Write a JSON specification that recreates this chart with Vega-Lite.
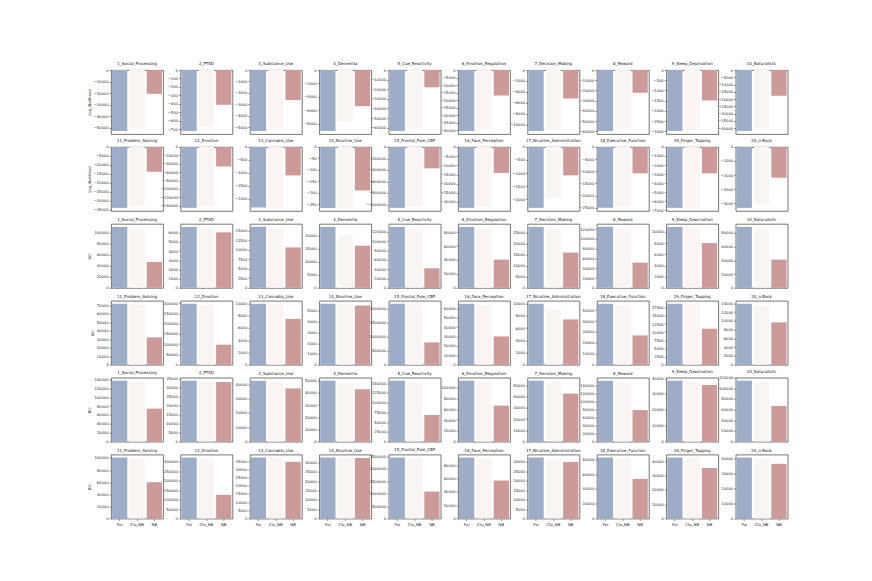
{
"$schema":"https://vega.github.io/schema/vega-lite/v6.json",
"padding":{"left":86,"top":61,"right":0,"bottom":0},
"background":"white",
"data":{"values":[
{"panel":1,"model":"Poi","value":-52800},{"panel":1,"model":"Clu_NB","value":-51300},{"panel":1,"model":"NB","value":-20600},
{"panel":2,"model":"Poi","value":-717},{"panel":2,"model":"Clu_NB","value":-669},{"panel":2,"model":"NB","value":-409},
{"panel":3,"model":"Poi","value":-5320},{"panel":3,"model":"Clu_NB","value":-5030},{"panel":3,"model":"NB","value":-2630},
{"panel":4,"model":"Poi","value":-9100},{"panel":4,"model":"Clu_NB","value":-7650},{"panel":4,"model":"NB","value":-5400},
{"panel":5,"model":"Poi","value":-63400},{"panel":5,"model":"Clu_NB","value":-61700},{"panel":5,"model":"NB","value":-18000},
{"panel":6,"model":"Poi","value":-40600},{"panel":6,"model":"Clu_NB","value":-39300},{"panel":6,"model":"NB","value":-17000},
{"panel":7,"model":"Poi","value":-11170},{"panel":7,"model":"Clu_NB","value":-11040},{"panel":7,"model":"NB","value":-5220},
{"panel":8,"model":"Poi","value":-59700},{"panel":8,"model":"Clu_NB","value":-58000},{"panel":8,"model":"NB","value":-22300},
{"panel":9,"model":"Poi","value":-2985},{"panel":9,"model":"Clu_NB","value":-2920},{"panel":9,"model":"NB","value":-1490},
{"panel":10,"model":"Poi","value":-41900},{"panel":10,"model":"Clu_NB","value":-40800},{"panel":10,"model":"NB","value":-17700},
{"panel":11,"model":"Poi","value":-34100},{"panel":11,"model":"Clu_NB","value":-33100},{"panel":11,"model":"NB","value":-13900},
{"panel":12,"model":"Poi","value":-145400},{"panel":12,"model":"Clu_NB","value":-141000},{"panel":12,"model":"NB","value":-46600},
{"panel":13,"model":"Poi","value":-2340},{"panel":13,"model":"Clu_NB","value":-2350},{"panel":13,"model":"NB","value":-1100},
{"panel":14,"model":"Poi","value":-266},{"panel":14,"model":"Clu_NB","value":-266},{"panel":14,"model":"NB","value":-190},
{"panel":15,"model":"Poi","value":-1058000},{"panel":15,"model":"Clu_NB","value":-1041000},{"panel":15,"model":"NB","value":-372000},
{"panel":16,"model":"Poi","value":-33200},{"panel":16,"model":"Clu_NB","value":-32700},{"panel":16,"model":"NB","value":-14200},
{"panel":17,"model":"Poi","value":-2333},{"panel":17,"model":"Clu_NB","value":-1950},{"panel":17,"model":"NB","value":-1090},
{"panel":18,"model":"Poi","value":-25100},{"panel":18,"model":"Clu_NB","value":-24600},{"panel":18,"model":"NB","value":-10900},
{"panel":19,"model":"Poi","value":-6720},{"panel":19,"model":"Clu_NB","value":-6720},{"panel":19,"model":"NB","value":-2920},
{"panel":20,"model":"Poi","value":-4330},{"panel":20,"model":"Clu_NB","value":-4100},{"panel":20,"model":"NB","value":-2190},
{"panel":21,"model":"Poi","value":110800},{"panel":21,"model":"Clu_NB","value":107800},{"panel":21,"model":"NB","value":47000},
{"panel":22,"model":"Poi","value":6650},{"panel":22,"model":"Clu_NB","value":6520},{"panel":22,"model":"NB","value":6050},
{"panel":23,"model":"Poi","value":16000},{"panel":23,"model":"Clu_NB","value":15400},{"panel":23,"model":"NB","value":10600},
{"panel":24,"model":"Poi","value":23300},{"panel":24,"model":"Clu_NB","value":20250},{"panel":24,"model":"NB","value":16100},
{"panel":25,"model":"Poi","value":130500},{"panel":25,"model":"Clu_NB","value":127000},{"panel":25,"model":"NB","value":41800},
{"panel":26,"model":"Poi","value":87600},{"panel":26,"model":"Clu_NB","value":84300},{"panel":26,"model":"NB","value":40500},
{"panel":27,"model":"Poi","value":27500},{"panel":27,"model":"Clu_NB","value":26900},{"panel":27,"model":"NB","value":15900},
{"panel":28,"model":"Poi","value":124700},{"panel":28,"model":"Clu_NB","value":121400},{"panel":28,"model":"NB","value":51500},
{"panel":29,"model":"Poi","value":10900},{"panel":29,"model":"Clu_NB","value":10700},{"panel":29,"model":"NB","value":8000},
{"panel":30,"model":"Poi","value":88700},{"panel":30,"model":"Clu_NB","value":86300},{"panel":30,"model":"NB","value":41000},
{"panel":31,"model":"Poi","value":72000},{"panel":31,"model":"Clu_NB","value":70900},{"panel":31,"model":"NB","value":32300},
{"panel":32,"model":"Poi","value":297000},{"panel":32,"model":"Clu_NB","value":290500},{"panel":32,"model":"NB","value":97400},
{"panel":33,"model":"Poi","value":9950},{"panel":33,"model":"Clu_NB","value":9950},{"panel":33,"model":"NB","value":7490},
{"panel":34,"model":"Poi","value":5670},{"panel":34,"model":"Clu_NB","value":5670},{"panel":34,"model":"NB","value":5510},
{"panel":35,"model":"Poi","value":2170000},{"panel":35,"model":"Clu_NB","value":2130000},{"panel":35,"model":"NB","value":795000},
{"panel":36,"model":"Poi","value":64900},{"panel":36,"model":"Clu_NB","value":63500},{"panel":36,"model":"NB","value":30100},
{"panel":37,"model":"Poi","value":10000},{"panel":37,"model":"Clu_NB","value":9180},{"panel":37,"model":"NB","value":7430},
{"panel":38,"model":"Poi","value":55800},{"panel":38,"model":"Clu_NB","value":54600},{"panel":38,"model":"NB","value":26800},
{"panel":39,"model":"Poi","value":18750},{"panel":39,"model":"Clu_NB","value":18650},{"panel":39,"model":"NB","value":11070},
{"panel":40,"model":"Poi","value":13900},{"panel":40,"model":"Clu_NB","value":13400},{"panel":40,"model":"NB","value":9660},
{"panel":41,"model":"Poi","value":137100},{"panel":41,"model":"Clu_NB","value":134800},{"panel":41,"model":"NB","value":74200},
{"panel":42,"model":"Poi","value":34000},{"panel":42,"model":"Clu_NB","value":33500},{"panel":42,"model":"NB","value":33200},
{"panel":43,"model":"Poi","value":42600},{"panel":43,"model":"Clu_NB","value":41900},{"panel":43,"model":"NB","value":37200},
{"panel":44,"model":"Poi","value":50000},{"panel":44,"model":"Clu_NB","value":47300},{"panel":44,"model":"NB","value":42900},
{"panel":45,"model":"Poi","value":156700},{"panel":45,"model":"Clu_NB","value":153200},{"panel":45,"model":"NB","value":68500},
{"panel":46,"model":"Poi","value":113000},{"panel":46,"model":"Clu_NB","value":110500},{"panel":46,"model":"NB","value":66700},
{"panel":47,"model":"Poi","value":54100},{"panel":47,"model":"Clu_NB","value":53600},{"panel":47,"model":"NB","value":42600},
{"panel":48,"model":"Poi","value":151500},{"panel":48,"model":"Clu_NB","value":148500},{"panel":48,"model":"NB","value":78300},
{"panel":49,"model":"Poi","value":38400},{"panel":49,"model":"Clu_NB","value":37900},{"panel":49,"model":"NB","value":35600},
{"panel":50,"model":"Poi","value":114400},{"panel":50,"model":"Clu_NB","value":112500},{"panel":50,"model":"NB","value":66900},
{"panel":51,"model":"Poi","value":100600},{"panel":51,"model":"Clu_NB","value":98900},{"panel":51,"model":"NB","value":59900},
{"panel":52,"model":"Poi","value":323000},{"panel":52,"model":"Clu_NB","value":316000},{"panel":52,"model":"NB","value":125400},
{"panel":53,"model":"Poi","value":37200},{"panel":53,"model":"Clu_NB","value":37200},{"panel":53,"model":"NB","value":34600},
{"panel":54,"model":"Poi","value":32700},{"panel":54,"model":"Clu_NB","value":32700},{"panel":54,"model":"NB","value":32500},
{"panel":55,"model":"Poi","value":2440000},{"panel":55,"model":"Clu_NB","value":2400000},{"panel":55,"model":"NB","value":1080000},
{"panel":56,"model":"Poi","value":92000},{"panel":56,"model":"Clu_NB","value":90400},{"panel":56,"model":"NB","value":57300},
{"panel":57,"model":"Poi","value":32100},{"panel":57,"model":"Clu_NB","value":31400},{"panel":57,"model":"NB","value":29800},
{"panel":58,"model":"Poi","value":82600},{"panel":58,"model":"Clu_NB","value":81300},{"panel":58,"model":"NB","value":53700},
{"panel":59,"model":"Poi","value":42600},{"panel":59,"model":"Clu_NB","value":42600},{"panel":59,"model":"NB","value":35300},
{"panel":60,"model":"Poi","value":40800},{"panel":60,"model":"Clu_NB","value":40200},{"panel":60,"model":"NB","value":36600}
]},
"columns":10,
"spacing":{"row":12.9,"column":17.4},
"bounds":"flush",
"concat":[
{"title":"1_Social_Processing","transform":[{"filter":"datum.panel==1"}],"mark":"bar","encoding":{"x":{"field":"model","type":"nominal","sort":["Poi","Clu_NB","NB"],"axis":null},"y":{"field":"value","type":"quantitative","stack":null,"scale":{"domain":[-55400,0],"nice":false},"axis":{"values":[0,-10000,-20000,-30000,-40000,-50000],"title":"Log_likelihood"}},"color":{"field":"model","type":"nominal","sort":["Poi","Clu_NB","NB"],"legend":null}}},
{"title":"2_PTSD","transform":[{"filter":"datum.panel==2"}],"mark":"bar","encoding":{"x":{"field":"model","type":"nominal","sort":["Poi","Clu_NB","NB"],"axis":null},"y":{"field":"value","type":"quantitative","stack":null,"scale":{"domain":[-753,0],"nice":false},"axis":{"values":[0,-100,-200,-300,-400,-500,-600,-700],"title":null}},"color":{"field":"model","type":"nominal","sort":["Poi","Clu_NB","NB"],"legend":null}}},
{"title":"3_Substance_Use","transform":[{"filter":"datum.panel==3"}],"mark":"bar","encoding":{"x":{"field":"model","type":"nominal","sort":["Poi","Clu_NB","NB"],"axis":null},"y":{"field":"value","type":"quantitative","stack":null,"scale":{"domain":[-5586,0],"nice":false},"axis":{"values":[0,-1000,-2000,-3000,-4000,-5000],"title":null}},"color":{"field":"model","type":"nominal","sort":["Poi","Clu_NB","NB"],"legend":null}}},
{"title":"4_Dementia","transform":[{"filter":"datum.panel==4"}],"mark":"bar","encoding":{"x":{"field":"model","type":"nominal","sort":["Poi","Clu_NB","NB"],"axis":null},"y":{"field":"value","type":"quantitative","stack":null,"scale":{"domain":[-9555,0],"nice":false},"axis":{"values":[0,-2000,-4000,-6000,-8000],"title":null}},"color":{"field":"model","type":"nominal","sort":["Poi","Clu_NB","NB"],"legend":null}}},
{"title":"5_Cue_Reactivity","transform":[{"filter":"datum.panel==5"}],"mark":"bar","encoding":{"x":{"field":"model","type":"nominal","sort":["Poi","Clu_NB","NB"],"axis":null},"y":{"field":"value","type":"quantitative","stack":null,"scale":{"domain":[-66570,0],"nice":false},"axis":{"values":[0,-10000,-20000,-30000,-40000,-50000,-60000],"title":null}},"color":{"field":"model","type":"nominal","sort":["Poi","Clu_NB","NB"],"legend":null}}},
{"title":"6_Emotion_Regulation","transform":[{"filter":"datum.panel==6"}],"mark":"bar","encoding":{"x":{"field":"model","type":"nominal","sort":["Poi","Clu_NB","NB"],"axis":null},"y":{"field":"value","type":"quantitative","stack":null,"scale":{"domain":[-42630,0],"nice":false},"axis":{"values":[0,-5000,-10000,-15000,-20000,-25000,-30000,-35000,-40000],"title":null}},"color":{"field":"model","type":"nominal","sort":["Poi","Clu_NB","NB"],"legend":null}}},
{"title":"7_Decision_Making","transform":[{"filter":"datum.panel==7"}],"mark":"bar","encoding":{"x":{"field":"model","type":"nominal","sort":["Poi","Clu_NB","NB"],"axis":null},"y":{"field":"value","type":"quantitative","stack":null,"scale":{"domain":[-11730,0],"nice":false},"axis":{"values":[0,-2000,-4000,-6000,-8000,-10000],"title":null}},"color":{"field":"model","type":"nominal","sort":["Poi","Clu_NB","NB"],"legend":null}}},
{"title":"8_Reward","transform":[{"filter":"datum.panel==8"}],"mark":"bar","encoding":{"x":{"field":"model","type":"nominal","sort":["Poi","Clu_NB","NB"],"axis":null},"y":{"field":"value","type":"quantitative","stack":null,"scale":{"domain":[-62685,0],"nice":false},"axis":{"values":[0,-10000,-20000,-30000,-40000,-50000,-60000],"title":null}},"color":{"field":"model","type":"nominal","sort":["Poi","Clu_NB","NB"],"legend":null}}},
{"title":"9_Sleep_Deprivation","transform":[{"filter":"datum.panel==9"}],"mark":"bar","encoding":{"x":{"field":"model","type":"nominal","sort":["Poi","Clu_NB","NB"],"axis":null},"y":{"field":"value","type":"quantitative","stack":null,"scale":{"domain":[-3134,0],"nice":false},"axis":{"values":[0,-500,-1000,-1500,-2000,-2500,-3000],"title":null}},"color":{"field":"model","type":"nominal","sort":["Poi","Clu_NB","NB"],"legend":null}}},
{"title":"10_Naturalistic","transform":[{"filter":"datum.panel==10"}],"mark":"bar","encoding":{"x":{"field":"model","type":"nominal","sort":["Poi","Clu_NB","NB"],"axis":null},"y":{"field":"value","type":"quantitative","stack":null,"scale":{"domain":[-43995,0],"nice":false},"axis":{"values":[0,-5000,-10000,-15000,-20000,-25000,-30000,-35000,-40000],"title":null}},"color":{"field":"model","type":"nominal","sort":["Poi","Clu_NB","NB"],"legend":null}}},
{"title":"11_Problem_Solving","transform":[{"filter":"datum.panel==11"}],"mark":"bar","encoding":{"x":{"field":"model","type":"nominal","sort":["Poi","Clu_NB","NB"],"axis":null},"y":{"field":"value","type":"quantitative","stack":null,"scale":{"domain":[-35805,0],"nice":false},"axis":{"values":[0,-5000,-10000,-15000,-20000,-25000,-30000,-35000],"title":"Log_likelihood"}},"color":{"field":"model","type":"nominal","sort":["Poi","Clu_NB","NB"],"legend":null}}},
{"title":"12_Emotion","transform":[{"filter":"datum.panel==12"}],"mark":"bar","encoding":{"x":{"field":"model","type":"nominal","sort":["Poi","Clu_NB","NB"],"axis":null},"y":{"field":"value","type":"quantitative","stack":null,"scale":{"domain":[-152670,0],"nice":false},"axis":{"values":[0,-20000,-40000,-60000,-80000,-100000,-120000,-140000],"title":null}},"color":{"field":"model","type":"nominal","sort":["Poi","Clu_NB","NB"],"legend":null}}},
{"title":"13_Cannabis_Use","transform":[{"filter":"datum.panel==13"}],"mark":"bar","encoding":{"x":{"field":"model","type":"nominal","sort":["Poi","Clu_NB","NB"],"axis":null},"y":{"field":"value","type":"quantitative","stack":null,"scale":{"domain":[-2468,0],"nice":false},"axis":{"values":[0,-500,-1000,-1500,-2000],"title":null}},"color":{"field":"model","type":"nominal","sort":["Poi","Clu_NB","NB"],"legend":null}}},
{"title":"14_Nicotine_Use","transform":[{"filter":"datum.panel==14"}],"mark":"bar","encoding":{"x":{"field":"model","type":"nominal","sort":["Poi","Clu_NB","NB"],"axis":null},"y":{"field":"value","type":"quantitative","stack":null,"scale":{"domain":[-279,0],"nice":false},"axis":{"values":[0,-50,-100,-150,-200,-250],"title":null}},"color":{"field":"model","type":"nominal","sort":["Poi","Clu_NB","NB"],"legend":null}}},
{"title":"15_Frontal_Pole_CBP","transform":[{"filter":"datum.panel==15"}],"mark":"bar","encoding":{"x":{"field":"model","type":"nominal","sort":["Poi","Clu_NB","NB"],"axis":null},"y":{"field":"value","type":"quantitative","stack":null,"scale":{"domain":[-1110900,0],"nice":false},"axis":{"values":[0,-200000,-400000,-600000,-800000,-1000000],"title":null}},"color":{"field":"model","type":"nominal","sort":["Poi","Clu_NB","NB"],"legend":null}}},
{"title":"16_Face_Perception","transform":[{"filter":"datum.panel==16"}],"mark":"bar","encoding":{"x":{"field":"model","type":"nominal","sort":["Poi","Clu_NB","NB"],"axis":null},"y":{"field":"value","type":"quantitative","stack":null,"scale":{"domain":[-34860,0],"nice":false},"axis":{"values":[0,-5000,-10000,-15000,-20000,-25000,-30000],"title":null}},"color":{"field":"model","type":"nominal","sort":["Poi","Clu_NB","NB"],"legend":null}}},
{"title":"17_Nicotine_Administration","transform":[{"filter":"datum.panel==17"}],"mark":"bar","encoding":{"x":{"field":"model","type":"nominal","sort":["Poi","Clu_NB","NB"],"axis":null},"y":{"field":"value","type":"quantitative","stack":null,"scale":{"domain":[-2450,0],"nice":false},"axis":{"values":[0,-500,-1000,-1500,-2000],"title":null}},"color":{"field":"model","type":"nominal","sort":["Poi","Clu_NB","NB"],"legend":null}}},
{"title":"18_Executive_Function","transform":[{"filter":"datum.panel==18"}],"mark":"bar","encoding":{"x":{"field":"model","type":"nominal","sort":["Poi","Clu_NB","NB"],"axis":null},"y":{"field":"value","type":"quantitative","stack":null,"scale":{"domain":[-26355,0],"nice":false},"axis":{"values":[0,-5000,-10000,-15000,-20000,-25000],"title":null}},"color":{"field":"model","type":"nominal","sort":["Poi","Clu_NB","NB"],"legend":null}}},
{"title":"19_Finger_Tapping","transform":[{"filter":"datum.panel==19"}],"mark":"bar","encoding":{"x":{"field":"model","type":"nominal","sort":["Poi","Clu_NB","NB"],"axis":null},"y":{"field":"value","type":"quantitative","stack":null,"scale":{"domain":[-7056,0],"nice":false},"axis":{"values":[0,-1000,-2000,-3000,-4000,-5000,-6000,-7000],"title":null}},"color":{"field":"model","type":"nominal","sort":["Poi","Clu_NB","NB"],"legend":null}}},
{"title":"20_n-Back","transform":[{"filter":"datum.panel==20"}],"mark":"bar","encoding":{"x":{"field":"model","type":"nominal","sort":["Poi","Clu_NB","NB"],"axis":null},"y":{"field":"value","type":"quantitative","stack":null,"scale":{"domain":[-4547,0],"nice":false},"axis":{"values":[0,-1000,-2000,-3000,-4000],"title":null}},"color":{"field":"model","type":"nominal","sort":["Poi","Clu_NB","NB"],"legend":null}}},
{"title":"1_Social_Processing","transform":[{"filter":"datum.panel==21"}],"mark":"bar","encoding":{"x":{"field":"model","type":"nominal","sort":["Poi","Clu_NB","NB"],"axis":null},"y":{"field":"value","type":"quantitative","stack":null,"scale":{"domain":[0,116340],"nice":false},"axis":{"values":[0,20000,40000,60000,80000,100000],"title":"AIC"}},"color":{"field":"model","type":"nominal","sort":["Poi","Clu_NB","NB"],"legend":null}}},
{"title":"2_PTSD","transform":[{"filter":"datum.panel==22"}],"mark":"bar","encoding":{"x":{"field":"model","type":"nominal","sort":["Poi","Clu_NB","NB"],"axis":null},"y":{"field":"value","type":"quantitative","stack":null,"scale":{"domain":[0,6983],"nice":false},"axis":{"values":[0,1000,2000,3000,4000,5000,6000],"title":null}},"color":{"field":"model","type":"nominal","sort":["Poi","Clu_NB","NB"],"legend":null}}},
{"title":"3_Substance_Use","transform":[{"filter":"datum.panel==23"}],"mark":"bar","encoding":{"x":{"field":"model","type":"nominal","sort":["Poi","Clu_NB","NB"],"axis":null},"y":{"field":"value","type":"quantitative","stack":null,"scale":{"domain":[0,16800],"nice":false},"axis":{"values":[0,2500,5000,7500,10000,12500,15000],"title":null}},"color":{"field":"model","type":"nominal","sort":["Poi","Clu_NB","NB"],"legend":null}}},
{"title":"4_Dementia","transform":[{"filter":"datum.panel==24"}],"mark":"bar","encoding":{"x":{"field":"model","type":"nominal","sort":["Poi","Clu_NB","NB"],"axis":null},"y":{"field":"value","type":"quantitative","stack":null,"scale":{"domain":[0,24470],"nice":false},"axis":{"values":[0,5000,10000,15000,20000],"title":null}},"color":{"field":"model","type":"nominal","sort":["Poi","Clu_NB","NB"],"legend":null}}},
{"title":"5_Cue_Reactivity","transform":[{"filter":"datum.panel==25"}],"mark":"bar","encoding":{"x":{"field":"model","type":"nominal","sort":["Poi","Clu_NB","NB"],"axis":null},"y":{"field":"value","type":"quantitative","stack":null,"scale":{"domain":[0,137000],"nice":false},"axis":{"values":[0,20000,40000,60000,80000,100000,120000],"title":null}},"color":{"field":"model","type":"nominal","sort":["Poi","Clu_NB","NB"],"legend":null}}},
{"title":"6_Emotion_Regulation","transform":[{"filter":"datum.panel==26"}],"mark":"bar","encoding":{"x":{"field":"model","type":"nominal","sort":["Poi","Clu_NB","NB"],"axis":null},"y":{"field":"value","type":"quantitative","stack":null,"scale":{"domain":[0,91980],"nice":false},"axis":{"values":[0,20000,40000,60000,80000],"title":null}},"color":{"field":"model","type":"nominal","sort":["Poi","Clu_NB","NB"],"legend":null}}},
{"title":"7_Decision_Making","transform":[{"filter":"datum.panel==27"}],"mark":"bar","encoding":{"x":{"field":"model","type":"nominal","sort":["Poi","Clu_NB","NB"],"axis":null},"y":{"field":"value","type":"quantitative","stack":null,"scale":{"domain":[0,28880],"nice":false},"axis":{"values":[0,5000,10000,15000,20000,25000],"title":null}},"color":{"field":"model","type":"nominal","sort":["Poi","Clu_NB","NB"],"legend":null}}},
{"title":"8_Reward","transform":[{"filter":"datum.panel==28"}],"mark":"bar","encoding":{"x":{"field":"model","type":"nominal","sort":["Poi","Clu_NB","NB"],"axis":null},"y":{"field":"value","type":"quantitative","stack":null,"scale":{"domain":[0,130900],"nice":false},"axis":{"values":[0,20000,40000,60000,80000,100000,120000],"title":null}},"color":{"field":"model","type":"nominal","sort":["Poi","Clu_NB","NB"],"legend":null}}},
{"title":"9_Sleep_Deprivation","transform":[{"filter":"datum.panel==29"}],"mark":"bar","encoding":{"x":{"field":"model","type":"nominal","sort":["Poi","Clu_NB","NB"],"axis":null},"y":{"field":"value","type":"quantitative","stack":null,"scale":{"domain":[0,11450],"nice":false},"axis":{"values":[0,2000,4000,6000,8000,10000],"title":null}},"color":{"field":"model","type":"nominal","sort":["Poi","Clu_NB","NB"],"legend":null}}},
{"title":"10_Naturalistic","transform":[{"filter":"datum.panel==30"}],"mark":"bar","encoding":{"x":{"field":"model","type":"nominal","sort":["Poi","Clu_NB","NB"],"axis":null},"y":{"field":"value","type":"quantitative","stack":null,"scale":{"domain":[0,93140],"nice":false},"axis":{"values":[0,20000,40000,60000,80000],"title":null}},"color":{"field":"model","type":"nominal","sort":["Poi","Clu_NB","NB"],"legend":null}}},
{"title":"11_Problem_Solving","transform":[{"filter":"datum.panel==31"}],"mark":"bar","encoding":{"x":{"field":"model","type":"nominal","sort":["Poi","Clu_NB","NB"],"axis":null},"y":{"field":"value","type":"quantitative","stack":null,"scale":{"domain":[0,75600],"nice":false},"axis":{"values":[0,10000,20000,30000,40000,50000,60000,70000],"title":"AIC"}},"color":{"field":"model","type":"nominal","sort":["Poi","Clu_NB","NB"],"legend":null}}},
{"title":"12_Emotion","transform":[{"filter":"datum.panel==32"}],"mark":"bar","encoding":{"x":{"field":"model","type":"nominal","sort":["Poi","Clu_NB","NB"],"axis":null},"y":{"field":"value","type":"quantitative","stack":null,"scale":{"domain":[0,311850],"nice":false},"axis":{"values":[0,50000,100000,150000,200000,250000,300000],"title":null}},"color":{"field":"model","type":"nominal","sort":["Poi","Clu_NB","NB"],"legend":null}}},
{"title":"13_Cannabis_Use","transform":[{"filter":"datum.panel==33"}],"mark":"bar","encoding":{"x":{"field":"model","type":"nominal","sort":["Poi","Clu_NB","NB"],"axis":null},"y":{"field":"value","type":"quantitative","stack":null,"scale":{"domain":[0,10450],"nice":false},"axis":{"values":[0,2000,4000,6000,8000,10000],"title":null}},"color":{"field":"model","type":"nominal","sort":["Poi","Clu_NB","NB"],"legend":null}}},
{"title":"14_Nicotine_Use","transform":[{"filter":"datum.panel==34"}],"mark":"bar","encoding":{"x":{"field":"model","type":"nominal","sort":["Poi","Clu_NB","NB"],"axis":null},"y":{"field":"value","type":"quantitative","stack":null,"scale":{"domain":[0,5954],"nice":false},"axis":{"values":[0,1000,2000,3000,4000,5000],"title":null}},"color":{"field":"model","type":"nominal","sort":["Poi","Clu_NB","NB"],"legend":null}}},
{"title":"15_Frontal_Pole_CBP","transform":[{"filter":"datum.panel==35"}],"mark":"bar","encoding":{"x":{"field":"model","type":"nominal","sort":["Poi","Clu_NB","NB"],"axis":null},"y":{"field":"value","type":"quantitative","stack":null,"scale":{"domain":[0,2278500],"nice":false},"axis":{"values":[0,500000,1000000,1500000,2000000],"title":null}},"color":{"field":"model","type":"nominal","sort":["Poi","Clu_NB","NB"],"legend":null}}},
{"title":"16_Face_Perception","transform":[{"filter":"datum.panel==36"}],"mark":"bar","encoding":{"x":{"field":"model","type":"nominal","sort":["Poi","Clu_NB","NB"],"axis":null},"y":{"field":"value","type":"quantitative","stack":null,"scale":{"domain":[0,68150],"nice":false},"axis":{"values":[0,10000,20000,30000,40000,50000,60000],"title":null}},"color":{"field":"model","type":"nominal","sort":["Poi","Clu_NB","NB"],"legend":null}}},
{"title":"17_Nicotine_Administration","transform":[{"filter":"datum.panel==37"}],"mark":"bar","encoding":{"x":{"field":"model","type":"nominal","sort":["Poi","Clu_NB","NB"],"axis":null},"y":{"field":"value","type":"quantitative","stack":null,"scale":{"domain":[0,10500],"nice":false},"axis":{"values":[0,2000,4000,6000,8000,10000],"title":null}},"color":{"field":"model","type":"nominal","sort":["Poi","Clu_NB","NB"],"legend":null}}},
{"title":"18_Executive_Function","transform":[{"filter":"datum.panel==38"}],"mark":"bar","encoding":{"x":{"field":"model","type":"nominal","sort":["Poi","Clu_NB","NB"],"axis":null},"y":{"field":"value","type":"quantitative","stack":null,"scale":{"domain":[0,58590],"nice":false},"axis":{"values":[0,10000,20000,30000,40000,50000],"title":null}},"color":{"field":"model","type":"nominal","sort":["Poi","Clu_NB","NB"],"legend":null}}},
{"title":"19_Finger_Tapping","transform":[{"filter":"datum.panel==39"}],"mark":"bar","encoding":{"x":{"field":"model","type":"nominal","sort":["Poi","Clu_NB","NB"],"axis":null},"y":{"field":"value","type":"quantitative","stack":null,"scale":{"domain":[0,19690],"nice":false},"axis":{"values":[0,2500,5000,7500,10000,12500,15000,17500],"title":null}},"color":{"field":"model","type":"nominal","sort":["Poi","Clu_NB","NB"],"legend":null}}},
{"title":"20_n-Back","transform":[{"filter":"datum.panel==40"}],"mark":"bar","encoding":{"x":{"field":"model","type":"nominal","sort":["Poi","Clu_NB","NB"],"axis":null},"y":{"field":"value","type":"quantitative","stack":null,"scale":{"domain":[0,14600],"nice":false},"axis":{"values":[0,2000,4000,6000,8000,10000,12000,14000],"title":null}},"color":{"field":"model","type":"nominal","sort":["Poi","Clu_NB","NB"],"legend":null}}},
{"title":"1_Social_Processing","transform":[{"filter":"datum.panel==41"}],"mark":"bar","encoding":{"x":{"field":"model","type":"nominal","sort":["Poi","Clu_NB","NB"],"axis":null},"y":{"field":"value","type":"quantitative","stack":null,"scale":{"domain":[0,143960],"nice":false},"axis":{"values":[0,20000,40000,60000,80000,100000,120000,140000],"title":"BIC"}},"color":{"field":"model","type":"nominal","sort":["Poi","Clu_NB","NB"],"legend":null}}},
{"title":"2_PTSD","transform":[{"filter":"datum.panel==42"}],"mark":"bar","encoding":{"x":{"field":"model","type":"nominal","sort":["Poi","Clu_NB","NB"],"axis":null},"y":{"field":"value","type":"quantitative","stack":null,"scale":{"domain":[0,35700],"nice":false},"axis":{"values":[0,5000,10000,15000,20000,25000,30000,35000],"title":null}},"color":{"field":"model","type":"nominal","sort":["Poi","Clu_NB","NB"],"legend":null}}},
{"title":"3_Substance_Use","transform":[{"filter":"datum.panel==43"}],"mark":"bar","encoding":{"x":{"field":"model","type":"nominal","sort":["Poi","Clu_NB","NB"],"axis":null},"y":{"field":"value","type":"quantitative","stack":null,"scale":{"domain":[0,44730],"nice":false},"axis":{"values":[0,10000,20000,30000,40000],"title":null}},"color":{"field":"model","type":"nominal","sort":["Poi","Clu_NB","NB"],"legend":null}}},
{"title":"4_Dementia","transform":[{"filter":"datum.panel==44"}],"mark":"bar","encoding":{"x":{"field":"model","type":"nominal","sort":["Poi","Clu_NB","NB"],"axis":null},"y":{"field":"value","type":"quantitative","stack":null,"scale":{"domain":[0,52500],"nice":false},"axis":{"values":[0,10000,20000,30000,40000,50000],"title":null}},"color":{"field":"model","type":"nominal","sort":["Poi","Clu_NB","NB"],"legend":null}}},
{"title":"5_Cue_Reactivity","transform":[{"filter":"datum.panel==45"}],"mark":"bar","encoding":{"x":{"field":"model","type":"nominal","sort":["Poi","Clu_NB","NB"],"axis":null},"y":{"field":"value","type":"quantitative","stack":null,"scale":{"domain":[0,164540],"nice":false},"axis":{"values":[0,25000,50000,75000,100000,125000,150000],"title":null}},"color":{"field":"model","type":"nominal","sort":["Poi","Clu_NB","NB"],"legend":null}}},
{"title":"6_Emotion_Regulation","transform":[{"filter":"datum.panel==46"}],"mark":"bar","encoding":{"x":{"field":"model","type":"nominal","sort":["Poi","Clu_NB","NB"],"axis":null},"y":{"field":"value","type":"quantitative","stack":null,"scale":{"domain":[0,118650],"nice":false},"axis":{"values":[0,20000,40000,60000,80000,100000],"title":null}},"color":{"field":"model","type":"nominal","sort":["Poi","Clu_NB","NB"],"legend":null}}},
{"title":"7_Decision_Making","transform":[{"filter":"datum.panel==47"}],"mark":"bar","encoding":{"x":{"field":"model","type":"nominal","sort":["Poi","Clu_NB","NB"],"axis":null},"y":{"field":"value","type":"quantitative","stack":null,"scale":{"domain":[0,56810],"nice":false},"axis":{"values":[0,10000,20000,30000,40000,50000],"title":null}},"color":{"field":"model","type":"nominal","sort":["Poi","Clu_NB","NB"],"legend":null}}},
{"title":"8_Reward","transform":[{"filter":"datum.panel==48"}],"mark":"bar","encoding":{"x":{"field":"model","type":"nominal","sort":["Poi","Clu_NB","NB"],"axis":null},"y":{"field":"value","type":"quantitative","stack":null,"scale":{"domain":[0,159080],"nice":false},"axis":{"values":[0,20000,40000,60000,80000,100000,120000,140000],"title":null}},"color":{"field":"model","type":"nominal","sort":["Poi","Clu_NB","NB"],"legend":null}}},
{"title":"9_Sleep_Deprivation","transform":[{"filter":"datum.panel==49"}],"mark":"bar","encoding":{"x":{"field":"model","type":"nominal","sort":["Poi","Clu_NB","NB"],"axis":null},"y":{"field":"value","type":"quantitative","stack":null,"scale":{"domain":[0,40320],"nice":false},"axis":{"values":[0,10000,20000,30000,40000],"title":null}},"color":{"field":"model","type":"nominal","sort":["Poi","Clu_NB","NB"],"legend":null}}},
{"title":"10_Naturalistic","transform":[{"filter":"datum.panel==50"}],"mark":"bar","encoding":{"x":{"field":"model","type":"nominal","sort":["Poi","Clu_NB","NB"],"axis":null},"y":{"field":"value","type":"quantitative","stack":null,"scale":{"domain":[0,120120],"nice":false},"axis":{"values":[0,20000,40000,60000,80000,100000,120000],"title":null}},"color":{"field":"model","type":"nominal","sort":["Poi","Clu_NB","NB"],"legend":null}}},
{"title":"11_Problem_Solving","transform":[{"filter":"datum.panel==51"}],"mark":"bar","encoding":{"x":{"field":"model","type":"nominal","sort":["Poi","Clu_NB","NB"],"axis":{"title":null}},"y":{"field":"value","type":"quantitative","stack":null,"scale":{"domain":[0,105630],"nice":false},"axis":{"values":[0,20000,40000,60000,80000,100000],"title":"BIC"}},"color":{"field":"model","type":"nominal","sort":["Poi","Clu_NB","NB"],"legend":null}}},
{"title":"12_Emotion","transform":[{"filter":"datum.panel==52"}],"mark":"bar","encoding":{"x":{"field":"model","type":"nominal","sort":["Poi","Clu_NB","NB"],"axis":{"title":null}},"y":{"field":"value","type":"quantitative","stack":null,"scale":{"domain":[0,339150],"nice":false},"axis":{"values":[0,50000,100000,150000,200000,250000,300000],"title":null}},"color":{"field":"model","type":"nominal","sort":["Poi","Clu_NB","NB"],"legend":null}}},
{"title":"13_Cannabis_Use","transform":[{"filter":"datum.panel==53"}],"mark":"bar","encoding":{"x":{"field":"model","type":"nominal","sort":["Poi","Clu_NB","NB"],"axis":{"title":null}},"y":{"field":"value","type":"quantitative","stack":null,"scale":{"domain":[0,39060],"nice":false},"axis":{"values":[0,5000,10000,15000,20000,25000,30000,35000],"title":null}},"color":{"field":"model","type":"nominal","sort":["Poi","Clu_NB","NB"],"legend":null}}},
{"title":"14_Nicotine_Use","transform":[{"filter":"datum.panel==54"}],"mark":"bar","encoding":{"x":{"field":"model","type":"nominal","sort":["Poi","Clu_NB","NB"],"axis":{"title":null}},"y":{"field":"value","type":"quantitative","stack":null,"scale":{"domain":[0,34340],"nice":false},"axis":{"values":[0,5000,10000,15000,20000,25000,30000],"title":null}},"color":{"field":"model","type":"nominal","sort":["Poi","Clu_NB","NB"],"legend":null}}},
{"title":"15_Frontal_Pole_CBP","transform":[{"filter":"datum.panel==55"}],"mark":"bar","encoding":{"x":{"field":"model","type":"nominal","sort":["Poi","Clu_NB","NB"],"axis":{"title":null}},"y":{"field":"value","type":"quantitative","stack":null,"scale":{"domain":[0,2562000],"nice":false},"axis":{"values":[0,500000,1000000,1500000,2000000,2500000],"title":null}},"color":{"field":"model","type":"nominal","sort":["Poi","Clu_NB","NB"],"legend":null}}},
{"title":"16_Face_Perception","transform":[{"filter":"datum.panel==56"}],"mark":"bar","encoding":{"x":{"field":"model","type":"nominal","sort":["Poi","Clu_NB","NB"],"axis":{"title":null}},"y":{"field":"value","type":"quantitative","stack":null,"scale":{"domain":[0,96600],"nice":false},"axis":{"values":[0,20000,40000,60000,80000],"title":null}},"color":{"field":"model","type":"nominal","sort":["Poi","Clu_NB","NB"],"legend":null}}},
{"title":"17_Nicotine_Administration","transform":[{"filter":"datum.panel==57"}],"mark":"bar","encoding":{"x":{"field":"model","type":"nominal","sort":["Poi","Clu_NB","NB"],"axis":{"title":null}},"y":{"field":"value","type":"quantitative","stack":null,"scale":{"domain":[0,33710],"nice":false},"axis":{"values":[0,5000,10000,15000,20000,25000,30000],"title":null}},"color":{"field":"model","type":"nominal","sort":["Poi","Clu_NB","NB"],"legend":null}}},
{"title":"18_Executive_Function","transform":[{"filter":"datum.panel==58"}],"mark":"bar","encoding":{"x":{"field":"model","type":"nominal","sort":["Poi","Clu_NB","NB"],"axis":{"title":null}},"y":{"field":"value","type":"quantitative","stack":null,"scale":{"domain":[0,86730],"nice":false},"axis":{"values":[0,20000,40000,60000,80000],"title":null}},"color":{"field":"model","type":"nominal","sort":["Poi","Clu_NB","NB"],"legend":null}}},
{"title":"19_Finger_Tapping","transform":[{"filter":"datum.panel==59"}],"mark":"bar","encoding":{"x":{"field":"model","type":"nominal","sort":["Poi","Clu_NB","NB"],"axis":{"title":null}},"y":{"field":"value","type":"quantitative","stack":null,"scale":{"domain":[0,44730],"nice":false},"axis":{"values":[0,10000,20000,30000,40000],"title":null}},"color":{"field":"model","type":"nominal","sort":["Poi","Clu_NB","NB"],"legend":null}}},
{"title":"20_n-Back","transform":[{"filter":"datum.panel==60"}],"mark":"bar","encoding":{"x":{"field":"model","type":"nominal","sort":["Poi","Clu_NB","NB"],"axis":{"title":null}},"y":{"field":"value","type":"quantitative","stack":null,"scale":{"domain":[0,42840],"nice":false},"axis":{"values":[0,10000,20000,30000,40000],"title":null}},"color":{"field":"model","type":"nominal","sort":["Poi","Clu_NB","NB"],"legend":null}}}
],
"config":{
"font":"DejaVu Sans",
"numberFormat":"d",
"view":{"stroke":"#666666","strokeWidth":0.9,"discreteWidth":52,"continuousHeight":64},
"axis":{"labelFontSize":3.7,"titleFontSize":3.7,"labelFont":"DejaVu Sans","titleFont":"DejaVu Sans","titleFontWeight":"normal","labelColor":"#222222","titleColor":"#222222","tickSize":2,"tickWidth":0.5,"tickColor":"#333333","domain":false,"grid":false,"labelPadding":1,"titlePadding":2},
"axisX":{"labelAngle":0,"labelFontSize":3.9,"labelPadding":1.5},
"title":{"fontSize":4,"font":"DejaVu Sans","fontWeight":"normal","offset":2,"color":"#111111","anchor":"middle"},
"range":{"category":["#9eadc7","#faf4f3","#cc9a98"]},
"scale":{"bandPaddingInner":0.12,"bandPaddingOuter":0.06}
}
}
